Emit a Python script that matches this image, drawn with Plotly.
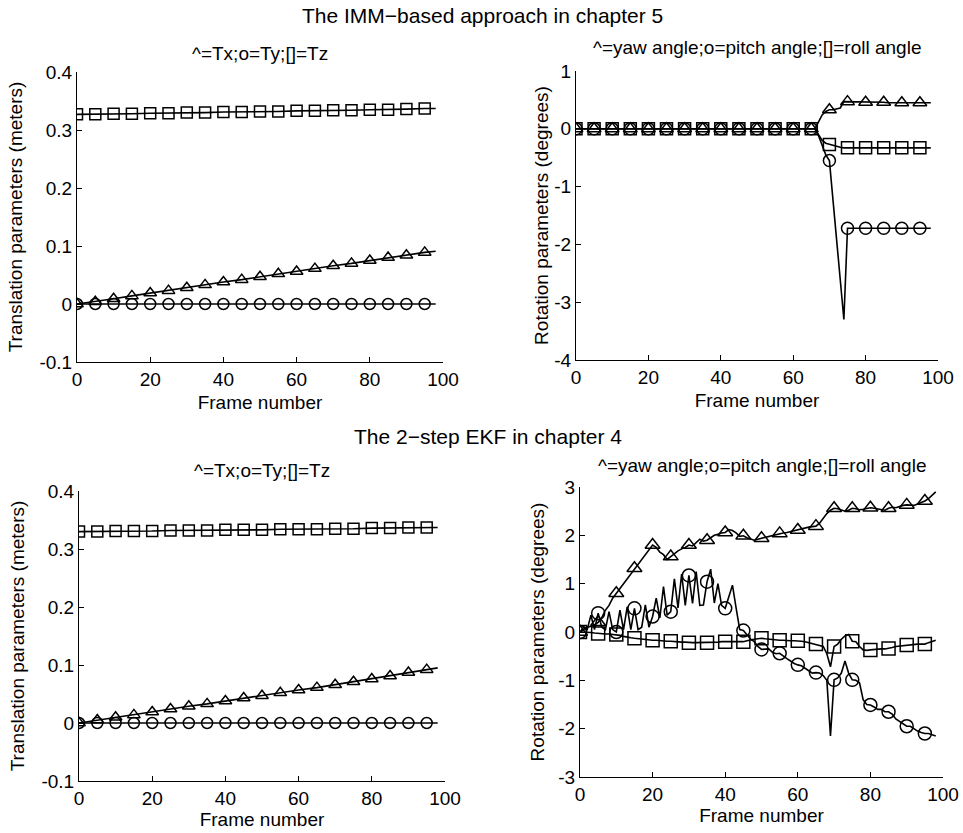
import plotly.graph_objects as go

W, H = 963, 833
FONT = "Liberation Sans, Arial, sans-serif"

# ---------------- data ----------------
# translation plots: values read every 5 frames (plus last frame 98)
frames_coarse = [0, 5, 10, 15, 20, 25, 30, 35, 40, 45, 50, 55, 60, 65, 70, 75, 80, 85, 90, 95, 98]

imm_tx = [0.0, 0.004, 0.009, 0.014, 0.019, 0.023, 0.028, 0.033, 0.038, 0.042, 0.047,
          0.052, 0.056, 0.061, 0.066, 0.070, 0.075, 0.080, 0.084, 0.089, 0.091]
imm_ty = [0.0, 0.0, 0.0, 0.0, 0.0, 0.0, 0.0, 0.0, 0.0, 0.0, 0.0,
          0.0, 0.0, 0.0, 0.0, 0.0, 0.0, 0.0, 0.0, 0.0, 0.0]
imm_tz = [0.327, 0.327, 0.328, 0.328, 0.329, 0.329, 0.330, 0.330, 0.331, 0.331, 0.332,
          0.332, 0.333, 0.333, 0.334, 0.334, 0.335, 0.335, 0.336, 0.337, 0.337]

ekf_tx = [0.0, 0.005, 0.010, 0.014, 0.019, 0.024, 0.029, 0.033, 0.038, 0.043, 0.047,
          0.052, 0.057, 0.061, 0.066, 0.071, 0.076, 0.081, 0.087, 0.092, 0.095]
ekf_ty = [0.0, 0.0, 0.0, 0.0, 0.0, 0.0, 0.0, 0.0, 0.0, 0.0, 0.0,
          0.0, 0.0, 0.0, 0.0, 0.0, 0.0, 0.0, 0.0, 0.0, 0.0]
ekf_tz = [0.330, 0.330, 0.331, 0.331, 0.331, 0.332, 0.332, 0.332, 0.333, 0.333, 0.333,
          0.334, 0.334, 0.334, 0.335, 0.335, 0.336, 0.336, 0.337, 0.337, 0.337]

# IMM rotation: every 5 frames up to 65, then every frame
frames_imm_rot = [0, 5, 10, 15, 20, 25, 30, 35, 40, 45, 50, 55, 60, 65,
                  66, 67, 68, 69, 70, 71, 72, 73, 74, 75, 76, 77, 78, 79, 80,
                  81, 82, 83, 84, 85, 86, 87, 88, 89, 90, 91, 92, 93, 94, 95, 96, 97, 98]
imm_yaw = [0.0, 0.0, 0.0, 0.0, 0.0, 0.0, 0.0, 0.0, 0.0, 0.0, 0.0, 0.0, 0.0, 0.0,
           0.0, 0.12, 0.24, 0.30, 0.33, 0.33, 0.34, 0.36, 0.47, 0.47, 0.47, 0.46, 0.46, 0.46, 0.46,
           0.46, 0.46, 0.46, 0.46, 0.46, 0.45, 0.45, 0.45, 0.45, 0.45, 0.45, 0.45, 0.45, 0.45, 0.45, 0.45, 0.45, 0.45]
imm_pitch = [0.0, 0.0, 0.0, 0.0, 0.0, 0.0, 0.0, 0.0, 0.0, 0.0, 0.0, 0.0, 0.0, 0.0,
             0.0, -0.12, -0.30, -0.45, -0.55, -1.25, -1.95, -2.62, -3.30, -1.72, -1.72, -1.72, -1.72, -1.72, -1.72,
             -1.72, -1.72, -1.72, -1.72, -1.72, -1.72, -1.72, -1.72, -1.72, -1.72, -1.72, -1.72, -1.72, -1.72, -1.72, -1.72, -1.72, -1.72]
imm_roll = [0.0, 0.0, 0.0, 0.0, 0.0, 0.0, 0.0, 0.0, 0.0, 0.0, 0.0, 0.0, 0.0, 0.0,
            0.0, -0.10, -0.20, -0.25, -0.27, -0.28, -0.30, -0.32, -0.33, -0.33, -0.33, -0.33, -0.33, -0.33, -0.33,
            -0.33, -0.33, -0.33, -0.33, -0.33, -0.33, -0.33, -0.33, -0.33, -0.33, -0.33, -0.33, -0.33, -0.33, -0.33, -0.33, -0.33, -0.33]

# EKF rotation: every frame 0..98
frames_ekf_rot = list(range(99))
ekf_yaw = [0.0, 0.05, 0.10, 0.12, 0.15, 0.20, 0.30, 0.45, 0.55, 0.70,
           0.80, 0.90, 1.00, 1.10, 1.20, 1.32, 1.40, 1.50, 1.60, 1.70,
           1.80, 1.75, 1.65, 1.60, 1.50, 1.56, 1.62, 1.68, 1.72, 1.75,
           1.80, 1.78, 1.85, 1.92, 1.88, 1.90, 1.95, 2.00, 2.02, 2.05,
           2.06, 2.12, 2.10, 2.05, 1.98, 1.99, 1.95, 1.92, 1.90, 1.92,
           1.94, 1.95, 1.97, 2.00, 2.02, 2.04, 2.05, 2.06, 2.08, 2.10,
           2.11, 2.13, 2.15, 2.17, 2.18, 2.19, 2.25, 2.35, 2.45, 2.52,
           2.56, 2.55, 2.53, 2.50, 2.52, 2.56, 2.55, 2.53, 2.54, 2.56,
           2.57, 2.56, 2.55, 2.53, 2.52, 2.56, 2.58, 2.57, 2.60, 2.62,
           2.63, 2.62, 2.62, 2.65, 2.68, 2.71, 2.76, 2.83, 2.90]
ekf_pitch = [0.0, 0.10, 0.05, 0.35, 0.05, 0.39, 0.10, 0.05, 0.42, 0.05,
             0.0, 0.45, 0.05, 0.52, 0.05, 0.49, 0.05, 0.10, 0.56, 0.10,
             0.32, 0.70, 0.29, 0.94, 0.35, 0.42, 1.10, 0.50, 1.20, 0.55,
             1.17, 0.59, 1.25, 0.55, 0.56, 1.04, 1.30, 0.60, 1.00, 0.55,
             0.49, 0.75, 0.97, 0.50, 0.05, 0.03, -0.05, -0.15, -0.20, -0.30,
             -0.36, -0.35, -0.35, -0.42, -0.45, -0.44, -0.50, -0.55, -0.60, -0.65,
             -0.68, -0.70, -0.75, -0.80, -0.85, -0.84, -0.85, -0.90, -1.00, -2.15,
             -0.99, -0.95, -0.85, -0.60, -0.85, -0.99, -1.00, -1.05, -1.40, -1.50,
             -1.51, -1.55, -1.60, -1.60, -1.65, -1.65, -1.70, -1.80, -1.85, -1.90,
             -1.95, -1.95, -2.00, -2.05, -2.08, -2.10, -2.10, -2.12, -2.15]
ekf_roll = [0.0, 0.0, 0.0, -0.01, -0.02, -0.03, -0.03, -0.04, -0.04, -0.05,
            -0.05, -0.07, -0.09, -0.11, -0.12, -0.13, -0.14, -0.15, -0.16, -0.16,
            -0.17, -0.17, -0.18, -0.18, -0.19, -0.19, -0.20, -0.20, -0.21, -0.21,
            -0.22, -0.22, -0.22, -0.22, -0.22, -0.22, -0.22, -0.21, -0.21, -0.20,
            -0.20, -0.20, -0.20, -0.20, -0.20, -0.20, -0.18, -0.16, -0.15, -0.14,
            -0.13, -0.14, -0.15, -0.16, -0.16, -0.17, -0.17, -0.18, -0.18, -0.18,
            -0.18, -0.19, -0.20, -0.22, -0.24, -0.25, -0.27, -0.30, -0.45, -0.72,
            -0.30, -0.25, -0.15, -0.08, -0.05, -0.19, -0.20, -0.30, -0.37, -0.38,
            -0.37, -0.36, -0.36, -0.35, -0.35, -0.34, -0.32, -0.30, -0.29, -0.28,
            -0.27, -0.26, -0.26, -0.25, -0.25, -0.25, -0.22, -0.20, -0.17]

x_ticks = [0, 20, 40, 60, 80, 100]
y_ticks_trans = [-0.1, 0, 0.1, 0.2, 0.3, 0.4]
y_ticktext_trans = ["-0.1", "0", "0.1", "0.2", "0.3", "0.4"]
y_ticks_rot_imm = [-4, -3, -2, -1, 0, 1]
y_ticktext_rot_imm = ["-4", "-3", "-2", "-1", "0", "1"]
y_ticks_rot_ekf = [-3, -2, -1, 0, 1, 2, 3]
y_ticktext_rot_ekf = ["-3", "-2", "-1", "0", "1", "2", "3"]

main_titles = ["The IMM−based approach in chapter 5", "The 2−step EKF in chapter 4"]
subtitle_trans = "^=Tx;o=Ty;[]=Tz"
subtitle_rot = "^=yaw angle;o=pitch angle;[]=roll angle"
xlabel = "Frame number"
ylabel_trans = "Translation parameters (meters)"
ylabel_rot = "Rotation parameters (degrees)"


def fx(px):
    return px / W


def fy(py):
    return 1 - py / H


# ---------------- layout of panels (window-pixel boxes) ----------------
panels = [
    dict(ax="", x0=77, x1=443, y0=72, y1=362, yr=[-0.1, 0.4], tv=y_ticks_trans, tt=y_ticktext_trans,
         yt=ylabel_trans, ystand=11, xstand=6, sub=subtitle_trans, suby=53, msize=11,
         series=[(frames_coarse, imm_tx, "triangle-up-open"),
                 (frames_coarse, imm_ty, "circle-open"),
                 (frames_coarse, imm_tz, "square-open")]),
    dict(ax="2", x0=576, x1=938, y0=71, y1=360, yr=[-4, 1], tv=y_ticks_rot_imm, tt=y_ticktext_rot_imm,
         yt=ylabel_rot, ystand=0, xstand=6, sub=subtitle_rot, suby=48, msize=12,
         series=[(frames_imm_rot, imm_yaw, "triangle-up-open"),
                 (frames_imm_rot, imm_pitch, "circle-open"),
                 (frames_imm_rot, imm_roll, "square-open")]),
    dict(ax="3", x0=79, x1=445, y0=491, y1=781, yr=[-0.1, 0.4], tv=y_ticks_trans, tt=y_ticktext_trans,
         yt=ylabel_trans, ystand=11, xstand=2, sub=subtitle_trans, suby=470, msize=11,
         series=[(frames_coarse, ekf_tx, "triangle-up-open"),
                 (frames_coarse, ekf_ty, "circle-open"),
                 (frames_coarse, ekf_tz, "square-open")]),
    dict(ax="4", x0=580, x1=943, y0=487, y1=777, yr=[-3, 3], tv=y_ticks_rot_ekf, tt=y_ticktext_rot_ekf,
         yt=ylabel_rot, ystand=8, xstand=2, sub=subtitle_rot, suby=465, msize=13,
         series=[(frames_ekf_rot, ekf_yaw, "triangle-up-open"),
                 (frames_ekf_rot, ekf_pitch, "circle-open"),
                 (frames_ekf_rot, ekf_roll, "square-open")]),
]

fig = go.Figure()
layout = dict(
    width=W, height=H, autosize=False,
    margin=dict(l=0, r=0, t=0, b=0, pad=0),
    paper_bgcolor="white", plot_bgcolor="white",
    showlegend=False,
    font=dict(family=FONT, size=19, color="black"),
    annotations=[],
)

axis_common = dict(showline=True, linecolor="black", linewidth=1, ticks="inside",
                   ticklen=5, tickcolor="black", tickwidth=1, showgrid=False,
                   zeroline=False, mirror=False, automargin=False,
                   tickfont=dict(family=FONT, size=19, color="black"))

for p in panels:
    a = p["ax"]
    xname, yname = "x" + a, "y" + a
    xd = [fx(p["x0"]), fx(p["x1"])]
    yd = [fy(p["y1"]), fy(p["y0"])]
    layout["xaxis" + a] = dict(axis_common, domain=xd, anchor=yname, range=[0, 100],
                               tickmode="array", tickvals=x_ticks,
                               title=dict(text=xlabel, standoff=p["xstand"],
                                          font=dict(family=FONT, size=19)))
    layout["yaxis" + a] = dict(axis_common, domain=yd, anchor=xname, range=p["yr"],
                               tickmode="array", tickvals=p["tv"], ticktext=p["tt"],
                               title=dict(text=p["yt"], standoff=p["ystand"],
                                          font=dict(family=FONT, size=19)))
    for fr, vals, sym in p["series"]:
        fig.add_trace(go.Scatter(x=fr, y=vals, mode="lines", xaxis=xname, yaxis=yname,
                                 line=dict(color="black", width=1.6), hoverinfo="skip"))
        mx = [f for f in fr if f % 5 == 0 and f <= 95]
        my = [v for f, v in zip(fr, vals) if f % 5 == 0 and f <= 95]
        fig.add_trace(go.Scatter(x=mx, y=my, mode="markers", xaxis=xname, yaxis=yname,
                                 marker=dict(symbol=sym, size=p["msize"], color="black",
                                             line=dict(color="black", width=1.5))))
    layout["annotations"].append(dict(
        text=p["sub"], x=fx((p["x0"] + p["x1"]) / 2), y=fy(p["suby"]),
        xref="paper", yref="paper", xanchor="center", yanchor="middle",
        showarrow=False, font=dict(family=FONT, size=19, color="black")))

layout["annotations"].append(dict(
    text=main_titles[0], x=fx(482), y=fy(16), xref="paper", yref="paper",
    xanchor="center", yanchor="middle", showarrow=False,
    font=dict(family=FONT, size=21, color="black")))
layout["annotations"].append(dict(
    text=main_titles[1], x=fx(488), y=fy(436), xref="paper", yref="paper",
    xanchor="center", yanchor="middle", showarrow=False,
    font=dict(family=FONT, size=21, color="black")))

fig.update_layout(**layout)
fig.write_html(
    "out.html",
    config={"displayModeBar": False},
    post_script="document.body.style.margin='0';"
                "document.body.style.overflow='hidden';"
                "document.documentElement.style.overflow='hidden';",
)
